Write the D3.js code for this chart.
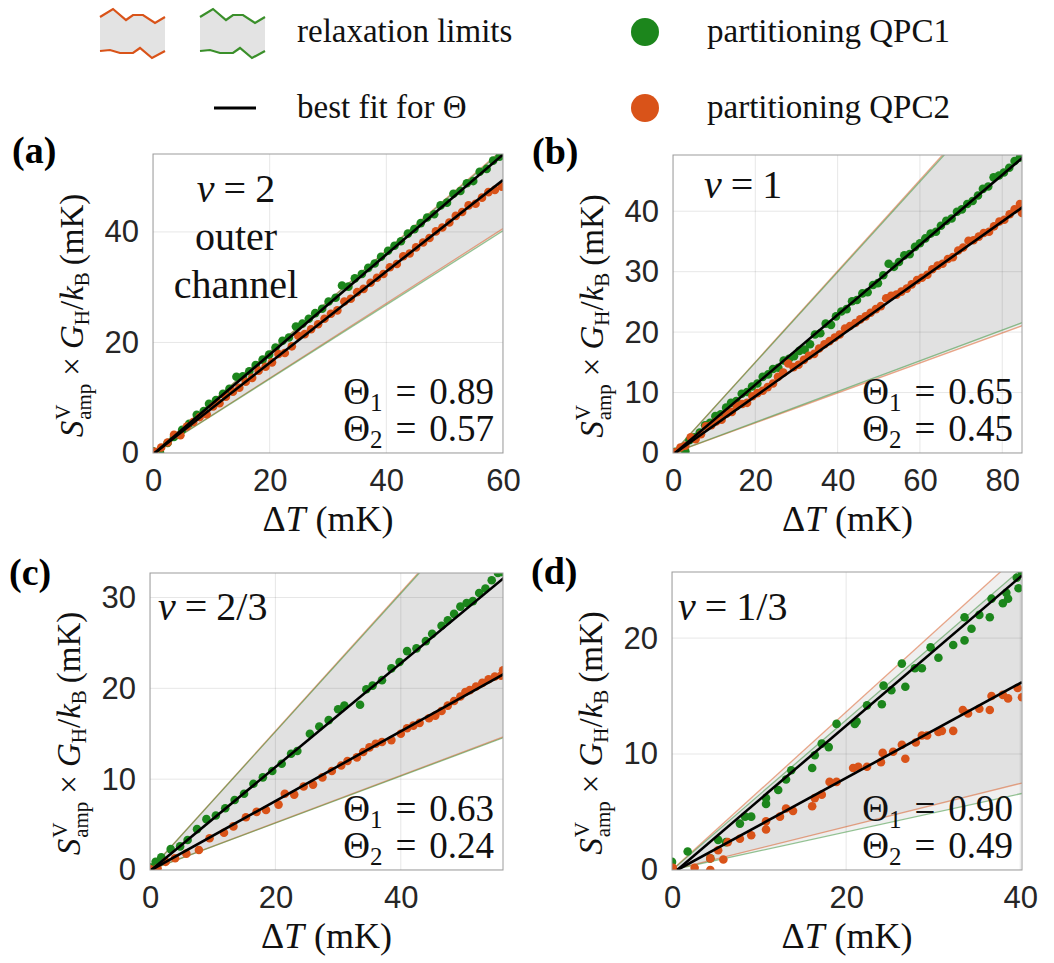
<!DOCTYPE html>
<html lang="en">
<head>
<meta charset="UTF-8">
<title>Relaxation limits and partitioning</title>
<script src="https://d3js.org/d3.v7.min.js"></script>
<style>
    body { margin: 0; background: #fff; }
    svg { display: block; }
    .tick text { fill: #262626; }
</style>
</head>
<body>
<div id="chart"></div>
<script>
// ---- data ----
// panel (a) nu = 2 outer channel
const aXTicks = [0, 20, 40, 60];
const aYTicks = [0, 20, 40];
const aGreen = [[0,0.3],[1.2,0.1],[2.5,1.8],[3.6,2.9],[5,4.2],[6.2,5.3],[7.5,6.9],[8.7,7.6],[9.6,8.9],[10.8,9.6],[12,10.7],[13.1,11.6],[14.3,13.8],[15.4,13.9],[16.5,14.8],[17.6,15.9],[18.8,16.9],[19.9,17.8],[21,19.1],[22.2,20.3],[23.3,20.9],[24.5,22.9],[25.6,23.4],[26.7,24.3],[27.8,25.3],[29,26.1],[30.1,27.4],[31.3,28.1],[32.4,30.3],[33.5,30.1],[34.6,31.6],[35.8,32.4],[36.9,33.5],[38,34.3],[39.1,35.5],[40.3,36.6],[41.4,37.5],[42.5,38.3],[43.7,39.7],[44.8,40.5],[45.9,41.6],[47,42.6],[48.2,43.2],[49.3,44.8],[50.4,45.3],[51.5,46.9],[52.7,47.4],[53.8,48.8],[54.9,49.2],[56,50.9],[57.2,51.4],[58.3,52.9],[59.4,53.6],[60,54]];
const aOrange = [[0.3,0.2],[1.4,1.0],[2.5,1.9],[3.6,3.3],[4.7,3.2],[5.8,4.8],[6.9,5.6],[8,6.5],[9.2,7.0],[10.3,8.4],[11.4,9.0],[12.5,10.2],[13.7,11.1],[14.8,11.8],[15.9,12.9],[17,13.6],[18.1,14.9],[19.3,15.6],[20.4,16.4],[21.5,17.9],[22.6,18.1],[23.8,19.3],[24.9,21.2],[26,21.5],[27.1,22.4],[28.3,23.3],[29.4,24.3],[30.5,25.2],[31.6,25.8],[32.8,27.4],[33.9,27.9],[35,29.1],[36.1,29.7],[37.3,30.8],[38.4,31.7],[39.5,32.4],[40.6,33.6],[41.8,34.2],[42.9,35.6],[44,36.1],[45.1,37.2],[46.3,38.1],[47.4,38.9],[48.5,40.1],[49.6,40.8],[50.8,41.7],[51.9,42.9],[53,43.6],[54.1,44.8],[55.3,45.1],[56.4,46.2],[57.5,47.2],[58.6,47.6],[59.8,48.2]];
const aLimitsOrange = [[0,0],[60,55.0],[60,40.6]];
const aLimitsGreen = [[0,0],[60,54.8],[60,40.2]];
const aFitGreen = [[0.3,0],[60,54.0]];
const aFitOrange = [[0.3,0],[60,49.4]];
const aTheta = ["0.89", "0.57"];

// panel (b) nu = 1
const bXTicks = [0, 20, 40, 60, 80];
const bYTicks = [0, 10, 20, 30, 40];
const bGreen = [[0.5,0.2],[2,0.8],[3,0.3],[4,2.1],[5.2,2.6],[6.5,3.4],[7.8,4.6],[9,5.0],[10.3,6.1],[11.6,6.4],[12.9,7.5],[14.1,8.3],[15.4,8.6],[16.7,9.8],[18,10.1],[19.2,11.0],[20.5,11.5],[21.8,12.6],[23.1,13.0],[24.3,13.9],[25.6,14.1],[26.9,15.3],[28.2,15.6],[29.4,16.0],[30.7,16.9],[32,17.1],[33.3,18.0],[34.5,19.6],[35.8,19.8],[37.1,21.4],[38.4,21.2],[39.6,22.6],[40.9,23.4],[42.2,23.8],[43.5,25.1],[44.7,25.3],[46,26.4],[47.3,26.6],[48.6,27.8],[49.8,28.1],[51.1,29.4],[52.4,31.3],[53.7,30.8],[54.9,31.6],[56.2,32.7],[57.5,32.9],[58.8,34.1],[60,34.7],[61.3,35.5],[62.6,36.3],[63.9,36.6],[65.1,37.6],[66.4,38.4],[67.7,38.8],[69,39.9],[70.2,40.3],[71.5,41.2],[72.8,41.7],[74.1,42.6],[75.3,43.7],[76.6,44.1],[77.9,45.6],[79.2,45.9],[80.4,46.4],[81.7,47.2],[83,48.3],[84.3,48.9]];
const bOrange = [[0.5,0.1],[1.8,0.9],[3,1.2],[4.3,2.6],[5.5,2.3],[6.8,3.1],[8,4.4],[9.3,4.6],[10.5,5.2],[11.8,5.5],[13,6.5],[14.3,6.8],[15.5,7.8],[16.8,8.1],[18,8.3],[19.3,9.4],[20.5,9.9],[21.8,10.3],[23,10.9],[24.3,11.5],[25.5,12.6],[26.8,13.3],[28,14.8],[29.3,14.2],[30.5,14.6],[31.8,15.4],[33,16.1],[34.3,16.4],[35.5,17.3],[36.8,18.0],[38,18.5],[39.3,19.1],[40.5,19.6],[41.8,20.6],[43,21.0],[44.3,21.5],[45.5,22.1],[46.8,22.6],[48,23.2],[49.3,23.8],[50.5,24.3],[51.8,25.6],[53,26.0],[54.3,26.2],[55.5,26.7],[56.8,27.2],[58,27.9],[59.3,28.6],[60.5,29.0],[61.8,29.5],[63,30.4],[64.3,31.0],[65.5,31.3],[66.8,32.1],[68,32.4],[69.3,33.5],[70.5,34.0],[71.8,35.1],[73,35.2],[74.3,35.8],[75.5,36.4],[76.8,36.6],[78,37.5],[79.3,38.3],[80.5,38.6],[81.8,39.5],[83,40.3],[84.3,41.2],[84.8,39.7]];
const bLimitsOrange = [[0,0],[85,64.0],[85,21.1]];
const bLimitsGreen = [[0,0],[85,63.6],[85,21.6]];
const bFitGreen = [[0.5,0],[85,48.9]];
const bFitOrange = [[0.5,0],[85,40.7]];
const bTheta = ["0.65", "0.45"];

// panel (c) nu = 2/3
const cXTicks = [0, 20, 40];
const cYTicks = [0, 10, 20, 30];
const cGreen = [[0,0.3],[0.9,0.9],[1.8,1.4],[3.3,2.3],[4.8,2.6],[6,3.3],[7.5,4.5],[9,5.6],[10.5,6.0],[12,6.8],[13.5,7.7],[15,8.4],[16.5,9.5],[18,10.2],[19.5,10.9],[21,11.7],[22.5,12.8],[23.5,13.1],[25.5,15.0],[27,15.8],[28.5,16.5],[30,17.7],[31,18.1],[33.5,18.2],[34.5,19.9],[35.5,20.3],[37,20.9],[38.5,22.2],[39.8,22.9],[41,24.1],[42.5,24.4],[44,25.2],[45,26.0],[46.5,26.9],[47.5,27.5],[48.5,28.2],[49.5,29.0],[50.5,29.4],[51.5,29.6],[52.5,30.5],[53.5,31.0],[54.5,31.9],[55.5,32.7],[56.2,32.8]];
const cOrange = [[0,0.1],[1.2,0.2],[2.5,0.9],[4,1.3],[5.8,1.8],[7.8,2.2],[9.5,3.5],[11.8,4.1],[13.3,4.8],[15.3,5.8],[17,6.4],[18.5,6.6],[20.5,7.2],[21.5,8.4],[23,8.3],[24.5,9.2],[26,9.4],[27.5,10.2],[29,10.9],[30.5,11.5],[31.5,12.0],[33,12.4],[34,13.0],[35,13.5],[36,13.9],[37,14.1],[38.5,14.3],[40,15.0],[41,15.6],[42,15.9],[43,16.2],[44.5,16.7],[45.5,17.0],[46.5,17.5],[47.5,18.1],[48.5,18.6],[49.5,19.1],[50.3,19.6],[51,19.8],[52,20.2],[53,20.6],[54,21.0],[55,21.3],[56,21.4],[56.3,22.0]];
const cLimitsOrange = [[0,0],[56.5,43.2],[56.5,14.7]];
const cLimitsGreen = [[0,0],[56.5,43.0],[56.5,14.6]];
const cFitGreen = [[0.2,0],[56.5,32.2]];
const cFitOrange = [[0.2,0],[56.5,21.6]];
const cTheta = ["0.63", "0.24"];

// panel (d) nu = 1/3
const dXTicks = [0, 20, 40];
const dYTicks = [0, 10, 20];
const dGreen = [[0,0.7],[1.8,1.6],[4.4,1.0],[5.3,2.6],[6.2,2.4],[7.8,4.0],[8.4,4.6],[9.1,4.6],[10.8,5.7],[10.8,6.2],[12.2,6.9],[13.1,7.8],[13.7,8.6],[16.1,8.8],[16.4,9.9],[17.2,10.9],[18,10.6],[18.9,12.6],[21,12.6],[21.2,12.8],[22.4,14.2],[24.1,14.3],[24.3,15.9],[25.2,15.5],[26.4,17.8],[26.8,15.8],[27.9,17.4],[28.7,17.4],[29.7,19.2],[30.6,18.3],[32.3,19.4],[33.6,19.8],[33.6,21.8],[34.4,20.8],[35.3,22.0],[36.5,21.8],[36.7,23.4],[38,23.0],[38.4,23.9],[38.6,23.4],[39.8,24.3],[39.6,25.2],[40.2,25.7]];
const dOrange = [[0.1,0.2],[2.6,0.2],[4.4,0.0],[4.4,1.0],[5.9,0.9],[5.3,1.7],[6.4,2.4],[7.8,2.7],[9.1,3.0],[10.8,3.5],[10.8,4.2],[12.4,4.6],[13.1,5.3],[13.9,5.1],[16.1,5.5],[16.4,6.2],[17.2,6.5],[18.1,7.6],[18.9,7.6],[20.8,8.8],[21.4,8.9],[22.4,8.9],[24,9.3],[24.2,10.1],[25.4,10.2],[26.8,9.6],[26.4,10.8],[28,11.0],[28.7,11.6],[29.3,11.6],[30.6,11.9],[31,12.0],[32.3,12.0],[33.4,13.8],[34,13.5],[35.3,13.9],[36.5,13.8],[36.7,15.0],[38,15.1],[38.6,14.8],[39.7,15.7],[40.2,14.9]];
const dLimitsOrange = [[0,0],[40.2,27.4],[40.2,7.5]];
const dLimitsGreen = [[0,0],[40.2,26.0],[40.2,6.6]];
const dFitGreen = [[0.6,0],[40.2,25.4]];
const dFitOrange = [[0.6,0],[40.2,16.2]];
const dTheta = ["0.90", "0.49"];

// ---- layout and style ----
const W = 1054, H = 963;
const serif = "'Liberation Serif','Times New Roman',serif";
const sans = "'Liberation Sans',Arial,Helvetica,sans-serif";
const GREEN = "#1c861c", ORANGE = "#d95319";

const panels = [
    {tag: "(a)", box: [153, 154, 503, 453], xDom: [0, 60], yDom: [0, 54.1],
     xTicks: aXTicks, yTicks: aYTicks, green: aGreen, orange: aOrange,
     limO: aLimitsOrange, limG: aLimitsGreen, fitG: aFitGreen, fitO: aFitOrange, theta: aTheta,
     nu: [["2"], "outer", "channel"], nuMode: "center", nuX: 236, nuY: 202},
    {tag: "(b)", box: [673, 155, 1022, 453], xDom: [0, 84.8], yDom: [0, 49.3],
     xTicks: bXTicks, yTicks: bYTicks, green: bGreen, orange: bOrange,
     limO: bLimitsOrange, limG: bLimitsGreen, fitG: bFitGreen, fitO: bFitOrange, theta: bTheta,
     nu: [["1"]], nuMode: "left", nuX: 704, nuY: 198},
    {tag: "(c)", box: [150, 573, 503, 870], xDom: [0, 56.3], yDom: [0, 32.7],
     xTicks: cXTicks, yTicks: cYTicks, green: cGreen, orange: cOrange,
     limO: cLimitsOrange, limG: cLimitsGreen, fitG: cFitGreen, fitO: cFitOrange, theta: cTheta,
     nu: [["2/3"]], nuMode: "left", nuX: 158, nuY: 620},
    {tag: "(d)", box: [672, 572, 1022, 870], xDom: [0, 40.2], yDom: [0, 25.7],
     xTicks: dXTicks, yTicks: dYTicks, green: dGreen, orange: dOrange,
     limO: dLimitsOrange, limG: dLimitsGreen, fitG: dFitGreen, fitO: dFitOrange, theta: dTheta,
     nu: [["1/3"]], nuMode: "left", nuX: 678, nuY: 620}
];

const svg = d3.select("#chart").append("svg")
    .attr("width", W).attr("height", H)
    .style("background", "#fff");

// place a row of text pieces next to each other (math-like labels)
function rich(parent, parts, anchor) {
    const g = parent.append("g");
    let x = 0, stackX = 0, stackW = 0;
    parts.forEach(p => {
        const px = p.stack === "end" ? stackX : x;
        const t = g.append("text")
            .attr("x", px).attr("y", p.dy || 0)
            .attr("font-family", serif)
            .attr("font-size", p.fs)
            .attr("font-style", p.it ? "italic" : "normal")
            .attr("fill", "#111")
            .text(p.t);
        const w = t.node().getComputedTextLength();
        if (p.stack === "start") { stackX = px; stackW = w; x = px + w; }
        else if (p.stack === "end") { x = stackX + Math.max(stackW, w); }
        else x = px + w;
        x += p.gap || 0;
    });
    const off = anchor === "middle" ? -x / 2 : anchor === "end" ? -x : 0;
    g.selectAll("text").attr("transform", `translate(${off},0)`);
    return g;
}

// ---- legend ----
const legend = svg.append("g");
const waveTop = [[0,8],[13,0],[26,11],[33,6],[43,6],[55,14],[65,8]];
const waveBot = [[0,42],[10,41],[20,44],[33,44],[40,39],[52,49],[65,42]];
[[100, ORANGE], [200, "#3a8f2a"]].forEach(([x0, col]) => {
    const ic = legend.append("g").attr("transform", `translate(${x0},9)`);
    ic.append("path")
        .attr("d", d3.line()(waveTop.concat(waveBot.slice().reverse())) + "Z")
        .attr("fill", "#e3e3e3");
    ic.append("path").attr("d", d3.line()(waveTop)).attr("fill", "none")
        .attr("stroke", col).attr("stroke-width", 2.2);
    ic.append("path").attr("d", d3.line()(waveBot)).attr("fill", "none")
        .attr("stroke", col).attr("stroke-width", 2.2);
});
legend.append("line").attr("x1", 214).attr("x2", 256).attr("y1", 108).attr("y2", 108)
    .attr("stroke", "#000").attr("stroke-width", 3);
legend.append("circle").attr("cx", 645).attr("cy", 32).attr("r", 14).attr("fill", GREEN);
legend.append("circle").attr("cx", 645).attr("cy", 108).attr("r", 14).attr("fill", ORANGE);
[["relaxation limits", 297, 42], ["best fit for \u0398", 297, 118],
 ["partitioning QPC1", 707, 42], ["partitioning QPC2", 707, 118]].forEach(([t, x, y]) => {
    legend.append("text").attr("x", x).attr("y", y)
        .attr("font-family", serif).attr("font-size", 33).attr("fill", "#111").text(t);
});

// ---- panels ----
panels.forEach((p, i) => {
    const [x0, y0, x1, y1] = p.box;
    const x = d3.scaleLinear().domain(p.xDom).range([x0, x1]);
    const y = d3.scaleLinear().domain(p.yDom).range([y1, y0]);
    const g = svg.append("g");

    const clipId = "clip" + i;
    svg.append("defs").append("clipPath").attr("id", clipId)
        .append("rect").attr("x", x0).attr("y", y0).attr("width", x1 - x0).attr("height", y1 - y0);

    const plot = g.append("g").attr("clip-path", `url(#${clipId})`);

    // relaxation bands
    [p.limO, p.limG].forEach(lim => {
        plot.append("path")
            .attr("d", d3.line().x(d => x(d[0])).y(d => y(d[1]))(lim) + "Z")
            .attr("fill", "#9e9e9e").attr("fill-opacity", 0.17);
    });

    // grid
    plot.selectAll(".gx").data(p.xTicks).join("line")
        .attr("x1", d => x(d)).attr("x2", d => x(d)).attr("y1", y0).attr("y2", y1)
        .attr("stroke", "#262626").attr("stroke-opacity", 0.11);
    plot.selectAll(".gy").data(p.yTicks).join("line")
        .attr("y1", d => y(d)).attr("y2", d => y(d)).attr("x1", x0).attr("x2", x1)
        .attr("stroke", "#262626").attr("stroke-opacity", 0.11);

    // limit lines
    [[p.limO, ORANGE], [p.limG, "#2e8b2e"]].forEach(([lim, col]) => {
        [[lim[0], lim[1]], [lim[0], lim[2]]].forEach(seg => {
            plot.append("line")
                .attr("x1", x(seg[0][0])).attr("y1", y(seg[0][1]))
                .attr("x2", x(seg[1][0])).attr("y2", y(seg[1][1]))
                .attr("stroke", col).attr("stroke-opacity", 0.5).attr("stroke-width", 1.3);
        });
    });

    // data points
    plot.selectAll(".pg").data(p.green).join("circle")
        .attr("cx", d => x(d[0])).attr("cy", d => y(d[1])).attr("r", 4.3).attr("fill", GREEN);
    plot.selectAll(".po").data(p.orange).join("circle")
        .attr("cx", d => x(d[0])).attr("cy", d => y(d[1])).attr("r", 4.3).attr("fill", ORANGE);

    // best fits
    [p.fitG, p.fitO].forEach(f => {
        plot.append("path")
            .attr("d", d3.line().x(d => x(d[0])).y(d => y(d[1]))(f))
            .attr("stroke", "#000").attr("stroke-width", 2.6).attr("fill", "none");
    });

    // box
    g.append("rect").attr("x", x0).attr("y", y0).attr("width", x1 - x0).attr("height", y1 - y0)
        .attr("fill", "none").attr("stroke", "#9c9c9c").attr("stroke-width", 1);

    // axes
    const ax = g.append("g").attr("transform", `translate(0,${y1})`)
        .call(d3.axisBottom(x).tickValues(p.xTicks).tickSize(0).tickPadding(16).tickFormat(d3.format("d")));
    const ay = g.append("g").attr("transform", `translate(${x0},0)`)
        .call(d3.axisLeft(y).tickValues(p.yTicks).tickSize(0).tickPadding(14).tickFormat(d3.format("d")));
    [ax, ay].forEach(a => {
        a.select(".domain").remove();
        a.selectAll("text").attr("font-family", sans).attr("font-size", 31).attr("fill", "#262626");
    });

    // axis labels
    const xl = g.append("g").attr("transform", `translate(${(x0 + x1) / 2},${y1 + 78})`);
    rich(xl, [{t: "\u0394", fs: 36}, {t: "T", fs: 36, it: true, gap: 10}, {t: "(mK)", fs: 36}], "middle");

    const yl = g.append("g").attr("transform", `translate(${x0 - 70},${(y0 + y1) / 2 + 12}) rotate(-90)`);
    rich(yl, [
        {t: "S", fs: 33, it: true, gap: 1},
        {t: "V", fs: 21, dy: -13, stack: "start"},
        {t: "amp", fs: 21, dy: 8, stack: "end", gap: 8},
        {t: "\u00d7", fs: 33, gap: 8},
        {t: "G", fs: 33, it: true},
        {t: "H", fs: 21, dy: 6},
        {t: "/", fs: 33},
        {t: "k", fs: 33, it: true},
        {t: "B", fs: 21, dy: 6, gap: 7},
        {t: "(mK)", fs: 33}
    ], "middle");

    // panel tag
    g.append("text").attr("x", x0 - 141).attr("y", y0 + (i < 2 ? 9 : 12))
        .attr("font-family", serif).attr("font-weight", "bold").attr("font-size", 38)
        .attr("fill", "#000").text(p.tag);

    // nu label
    const nuRow = g.append("g").attr("transform", `translate(${p.nuX},${p.nuY})`);
    rich(nuRow, [{t: "\u03bd", fs: 40, it: true, gap: 9}, {t: "=", fs: 40, gap: 9}, {t: p.nu[0][0], fs: 40}],
        p.nuMode === "center" ? "middle" : "start");
    p.nu.slice(1).forEach((line, k) => {
        g.append("text").attr("x", p.nuX).attr("y", p.nuY + 48 * (k + 1))
            .attr("text-anchor", "middle").attr("font-family", serif).attr("font-size", 40)
            .attr("fill", "#111").text(line);
    });

    // theta labels
    p.theta.forEach((v, k) => {
        const row = g.append("g").attr("transform", `translate(${x1 - 9},${y1 - 49 + 37 * k})`);
        rich(row, [
            {t: "\u0398", fs: 37},
            {t: String(k + 1), fs: 25, dy: 7, gap: 13},
            {t: "=", fs: 37, gap: 13},
            {t: v, fs: 37}
        ], "end");
    });
});
</script>
</body>
</html>
